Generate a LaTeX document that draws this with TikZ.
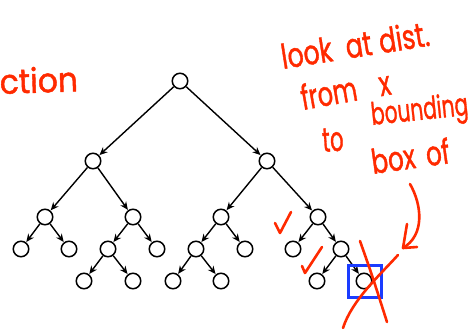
\documentclass[tikz,border=0pt]{standalone}
\usepackage{fontspec}
\newfontfamily\hand{Poppins}[FakeBold=1.4]
\usetikzlibrary{arrows.meta}
\definecolor{ink}{HTML}{FF2A00}
\definecolor{boxblue}{HTML}{1A3CFF}
\begin{document}
\begin{tikzpicture}[x=1pt,y=-1pt,
  tnode/.style={circle,draw=black,line width=1.5pt,minimum size=15.5pt,inner sep=0pt},
  edge/.style={-{Stealth[length=8pt,width=7pt]},line width=1.4pt,shorten >=0.3pt},
  note/.style={text=ink,font=\hand\fontsize{34}{36}\selectfont,inner sep=0pt,anchor=base west},
  pen/.style={draw=ink,line width=2.6pt,line cap=round,line join=round}]
\useasboundingbox (0,0) rectangle (469,329);
% tree nodes
\node[tnode] (r) at (180,81) {};
\node[tnode] (a) at (93,161) {};
\node[tnode] (e) at (267,161) {};
\node[tnode] (b) at (45,217) {};
\node[tnode] (c) at (133,217) {};
\node[tnode] (f) at (221,217) {};
\node[tnode] (h) at (318,217) {};
\node[tnode] (b1) at (21,249) {};
\node[tnode] (b2) at (69,249) {};
\node[tnode] (d) at (108,249) {};
\node[tnode] (c2) at (157,249) {};
\node[tnode] (g) at (196,249) {};
\node[tnode] (f2) at (245,249) {};
\node[tnode] (h1) at (293,249) {};
\node[tnode] (i) at (341,249) {};
\node[tnode] (d1) at (84,281) {};
\node[tnode] (d2) at (133,281) {};
\node[tnode] (g1) at (173,281) {};
\node[tnode] (g2) at (221,281) {};
\node[tnode] (i1) at (317,281) {};
\node[tnode] (j) at (364,281) {};
% tree edges
\foreach \p/\q in {r/a,r/e,a/b,a/c,e/f,e/h,b/b1,b/b2,c/d,c/c2,f/g,f/f2,h/h1,h/i,d/d1,d/d2,g/g1,g/g2,i/i1,i/j}
  \draw[edge] (\p) -- (\q);
% highlighted leaf
\node[draw=boxblue,line width=2.6pt,minimum width=33pt,minimum height=32pt,inner sep=0pt] (sel) at (365,281.5) {};
% handwritten notes (rotation first, so the condensing is not sheared)
\node[rotate=2,note,xscale=0.92] (n0) at (0,94) {ction};
\node[rotate=9,note,xscale=0.74] (n1) at (283,69) {look\hspace{0.55em}at\hspace{0.3em}dist.};
\node[rotate=10,note,xscale=0.7] (n2) at (303,110) {from\hspace{0.95em}x};
\node[rotate=4,note,xscale=0.62] (n3a) at (323,152) {to};
\node[rotate=6,note,xscale=0.65,font=\hand\fontsize{31}{33}\selectfont] (n3b) at (372,125) {bounding};
\node[rotate=8,note,xscale=0.72] (n4) at (373,174) {box\hspace{0.45em}of};
% check marks
\coordinate (k1a) at (275,223);
\coordinate (k1b) at (280,233);
\coordinate (k1c) at (291,212);
\draw[pen] (k1a) -- (k1b) -- (k1c);
\coordinate (k2a) at (302,266);
\coordinate (k2b) at (305,273);
\coordinate (k2c) at (322,247);
\draw[pen] (k2a) -- (k2b) -- (k2c);
% cross over the leaf
\coordinate (x1a) at (360,241);
\coordinate (x1b) at (387,322);
\draw[pen] (x1a) .. controls (372,275) .. (x1b);
\coordinate (x2a) at (343,328);
\coordinate (x2b) at (398,255);
\draw[pen] (x2a) .. controls (352,300) and (380,275) .. (x2b);
% arrow pointing to the leaf
\coordinate (ar0) at (410,184);
\coordinate (ar1) at (403,248);
\draw[pen] (ar0) .. controls (422,205) and (425,235) .. (ar1);
\coordinate (ah1) at (407,224);
\coordinate (ah2) at (417,247);
\draw[pen] (ah1) -- (ar1) -- (ah2);
\end{tikzpicture}
\end{document}
